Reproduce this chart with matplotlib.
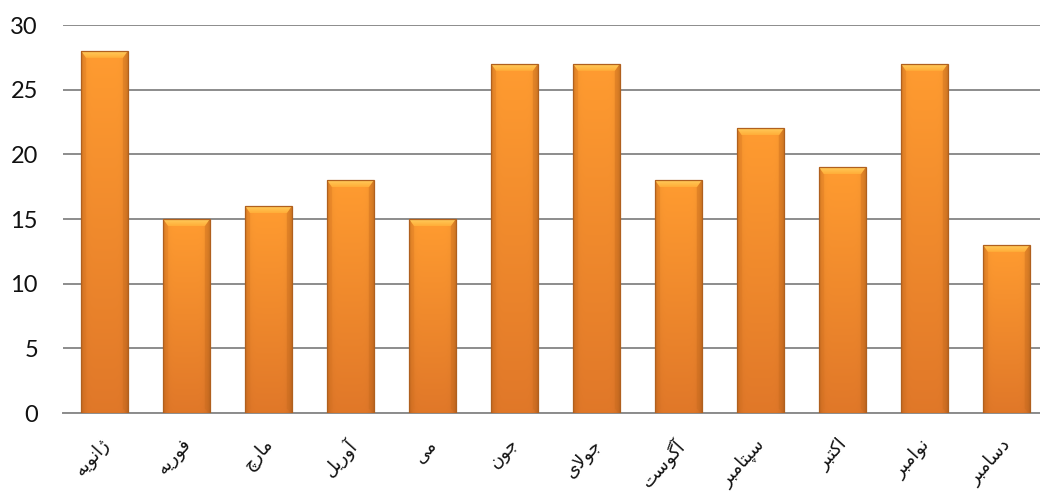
import matplotlib
matplotlib.use("Agg")
import matplotlib.pyplot as plt
import matplotlib.transforms as mtrans
import numpy as np
from matplotlib.patches import Polygon

months = ["ژانویه", "فوریه", "مارچ", "آوریل", "می", "جون",
          "جولای", "آگوست", "سپتامبر", "اکتبر", "نوامبر", "دسامبر"]
values = [28, 15, 16, 18, 15, 27, 27, 18, 22, 19, 27, 13]
yticks = [0, 5, 10, 15, 20, 25, 30]

# --- minimal Persian shaping (presentation forms) ---
FORMS = {  # isolated, final, initial, medial
    "ا": ("\uFE8D", "\uFE8E", None, None),
    "آ": ("\uFE81", "\uFE82", None, None),
    "ب": ("\uFE8F", "\uFE90", "\uFE91", "\uFE92"),
    "پ": ("\uFB56", "\uFB57", "\uFB58", "\uFB59"),
    "ت": ("\uFE95", "\uFE96", "\uFE97", "\uFE98"),
    "ج": ("\uFE9D", "\uFE9E", "\uFE9F", "\uFEA0"),
    "چ": ("\uFB7A", "\uFB7B", "\uFB7C", "\uFB7D"),
    "د": ("\uFEA9", "\uFEAA", None, None),
    "ر": ("\uFEAD", "\uFEAE", None, None),
    "ژ": ("\uFB8A", "\uFB8B", None, None),
    "س": ("\uFEB1", "\uFEB2", "\uFEB3", "\uFEB4"),
    "ف": ("\uFED1", "\uFED2", "\uFED3", "\uFED4"),
    "ک": ("\uFB8E", "\uFB8F", "\uFB90", "\uFB91"),
    "گ": ("\uFB92", "\uFB93", "\uFB94", "\uFB95"),
    "ل": ("\uFEDD", "\uFEDE", "\uFEDF", "\uFEE0"),
    "م": ("\uFEE1", "\uFEE2", "\uFEE3", "\uFEE4"),
    "ن": ("\uFEE5", "\uFEE6", "\uFEE7", "\uFEE8"),
    "ه": ("\uFEE9", "\uFEEA", "\uFEEB", "\uFEEC"),
    "و": ("\uFEED", "\uFEEE", None, None),
    "ی": ("\uFBFC", "\uFBFD", "\uFBFE", "\uFBFF"),
}


def joins_next(c):
    return c in FORMS and FORMS[c][2] is not None


def shape(word):
    out = []
    n = len(word)
    i = 0
    while i < n:
        c = word[i]
        prev_joins = i > 0 and joins_next(word[i - 1])
        if c == "ل" and i + 1 < n and word[i + 1] == "ا":
            out.append("\uFEFC" if prev_joins else "\uFEFB")
            i += 2
            continue
        if c not in FORMS:
            out.append(c)
            i += 1
            continue
        iso, fin, ini, med = FORMS[c]
        next_exists = i + 1 < n and word[i + 1] in FORMS
        can_join_next = ini is not None and next_exists
        if prev_joins and can_join_next:
            g = med
        elif prev_joins:
            g = fin
        elif can_join_next:
            g = ini
        else:
            g = iso
        out.append(g)
        i += 1
    return "".join(reversed(out))


fig = plt.figure(figsize=(10.4, 4.91), dpi=100)
ax = fig.add_axes([63 / 1040, 1 - 413 / 491, (1040 - 63) / 1040, (413 - 25) / 491])

x = np.arange(len(values))
width = 0.57
bars = ax.bar(x, values, width=width, color="#F59228", edgecolor="none",
              linewidth=0, zorder=3)

ax.set_xlim(-0.506, 11.41)
ax.set_ylim(0, 30)

px_y = 30 / (413 - 25)
px_x = 1 / 82.0

xs = np.linspace(0, 1, 64)
hprof = 1 - 0.18 * (np.abs(xs - 0.5) * 2) ** 8
base_top = np.array([1.000, 0.610, 0.190])
base_bot = np.array([0.880, 0.470, 0.160])

for b, v in zip(bars, values):
    x0 = b.get_x()
    x1 = x0 + b.get_width()
    ys = np.linspace(0, 1, 64)[:, None]
    col = base_bot[None, None, :] + (base_top - base_bot)[None, None, :] * ys[..., None]
    img = np.clip(col * hprof[None, :, None], 0, 1)
    im = ax.imshow(img, extent=[x0, x1, 0, v], origin="lower", aspect="auto",
                   zorder=3.5, interpolation="bilinear")
    im.set_clip_path(b)
    dx = 5 * px_x
    dy = 7 * px_y
    top = Polygon([(x0, v), (x1, v), (x1 - dx, v - dy), (x0 + dx, v - dy)],
                  closed=True, facecolor="none", edgecolor="none", zorder=4)
    ax.add_patch(top)
    gy = np.linspace(0, 1, 32)[:, None]
    c_lo = np.array([1.0, 0.68, 0.22])
    c_hi = np.array([1.0, 0.80, 0.36])
    gimg = c_lo[None, None, :] + (c_hi - c_lo)[None, None, :] * gy[..., None]
    gimg = np.repeat(gimg, 8, axis=1)
    gi = ax.imshow(gimg, extent=[x0, x1, v - dy, v], origin="lower", aspect="auto",
                   zorder=4.1, interpolation="bilinear")
    gi.set_clip_path(top)
    lft = Polygon([(x0, v), (x0 + dx, v - dy), (x0 + dx, dy * 0.6), (x0, 0)],
                  closed=True, facecolor="#D87320", alpha=0.30, edgecolor="none", zorder=4)
    ax.add_patch(lft)
    rgt = Polygon([(x1, v), (x1 - dx, v - dy), (x1 - dx, dy * 0.6), (x1, 0)],
                  closed=True, facecolor="#C86A1C", alpha=0.40, edgecolor="none", zorder=4)
    ax.add_patch(rgt)
    ax.add_patch(Polygon([(x0, 0), (x0, v), (x1, v), (x1, 0)], closed=True,
                         facecolor="none", edgecolor="#B0601E", linewidth=0.9, zorder=4.5))

ax.set_yticks(yticks)
ax.yaxis.grid(True, color="#8C8C8C", linewidth=1.4, zorder=1)
ax.set_axisbelow(True)
for s in ["left", "right", "top"]:
    ax.spines[s].set_visible(False)
ax.spines["bottom"].set_color("#8C8C8C")
ax.spines["bottom"].set_linewidth(1.4)
ax.tick_params(axis="both", length=0)
ax.tick_params(axis="y", labelsize=17, pad=18, labelcolor="#111111")
for t in ax.get_yticklabels():
    t.set_fontfamily(["Lato", "DejaVu Sans"])

ax.set_xticks(x)
ax.set_xticklabels([shape(m) for m in months], rotation=48, ha="right",
                   rotation_mode="anchor", fontsize=13,
                   fontfamily=["DejaVu Sans"], color="#111111")
ax.tick_params(axis="x", pad=16)
offset = mtrans.ScaledTranslation(-5 / 100, 0, fig.dpi_scale_trans)
for t in ax.get_xticklabels():
    t.set_transform(t.get_transform() + offset)

fig.savefig("out.png", dpi=100, facecolor="white")
